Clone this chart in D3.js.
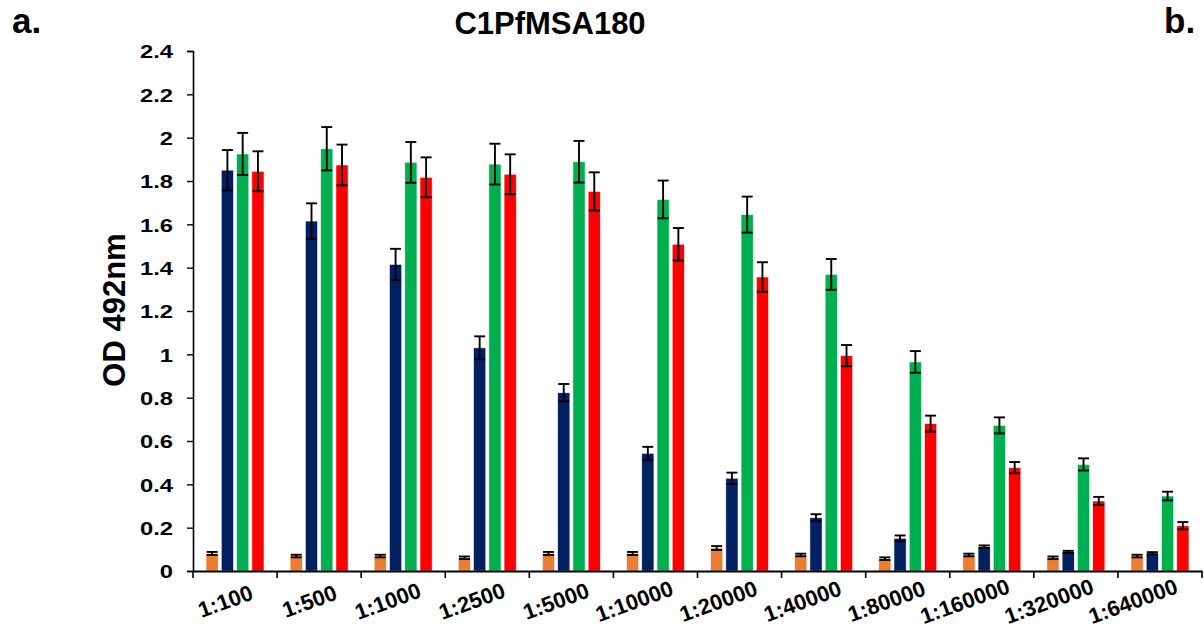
<!DOCTYPE html>
<html>
<head>
<meta charset="utf-8">
<script src="https://cdn.jsdelivr.net/npm/d3@7"></script>
<style>
    body { margin: 0; background: #fff; }
    svg { font-family: 'Liberation Sans', Arial, sans-serif; font-weight: bold; }
</style>
</head>
<body>
<div id="chart"></div>
<script>
    // dilutions on the x axis
    var categories = ['1:100', '1:500', '1:1000', '1:2500', '1:5000', '1:10000',
        '1:20000', '1:40000', '1:80000', '1:160000', '1:320000', '1:640000'];

    var seriesNames = ['s1', 's2', 's3', 's4'];
    var seriesColors = ['#ED7D31', '#002060', '#00B050', '#FF0000'];

    // OD values
    var orangeVals = [0.081, 0.069, 0.069, 0.061, 0.081, 0.081, 0.106, 0.074, 0.057, 0.074, 0.061, 0.069];
    var orangeErr  = [0.007, 0.006, 0.006, 0.006, 0.007, 0.007, 0.009, 0.006, 0.006, 0.006, 0.006, 0.006];
    var blueVals   = [1.85, 1.615, 1.415, 1.03, 0.823, 0.543, 0.428, 0.246, 0.151, 0.112, 0.088, 0.082];
    var blueErr    = [0.093, 0.082, 0.072, 0.053, 0.04, 0.03, 0.026, 0.016, 0.013, 0.006, 0.005, 0.005];
    var greenVals  = [1.925, 1.949, 1.886, 1.878, 1.889, 1.715, 1.645, 1.369, 0.965, 0.672, 0.492, 0.346];
    var greenErr   = [0.097, 0.1, 0.094, 0.094, 0.096, 0.087, 0.083, 0.071, 0.05, 0.037, 0.028, 0.02];
    var redVals    = [1.845, 1.874, 1.817, 1.831, 1.752, 1.508, 1.357, 0.994, 0.68, 0.477, 0.323, 0.209];
    var redErr     = [0.092, 0.094, 0.092, 0.092, 0.088, 0.075, 0.068, 0.049, 0.037, 0.026, 0.019, 0.017];

    var yTicks = [0, 0.2, 0.4, 0.6, 0.8, 1, 1.2, 1.4, 1.6, 1.8, 2, 2.2, 2.4];

    var width = 1204,
        height = 631,
        plotLeft = 193,
        plotRight = 1202,
        plotTop = 51,
        plotBottom = 571;

    var values = [orangeVals, blueVals, greenVals, redVals],
        errors = [orangeErr, blueErr, greenErr, redErr];

    var svg = d3.select('#chart').append('svg')
        .attr('width', width)
        .attr('height', height);

    var x0 = d3.scaleBand()
        .domain(categories)
        .range([plotLeft, plotRight])
        .padding(0);

    var groupWidth = 58;
    var x1 = d3.scaleBand()
        .domain(seriesNames)
        .range([0, groupWidth])
        .paddingInner(0.2)
        .paddingOuter(0);

    var y = d3.scaleLinear()
        .domain([0, 2.4])
        .range([plotBottom, plotTop]);

    // flatten into one record per bar
    var bars = [];
    categories.forEach(function(cat, i) {
        seriesNames.forEach(function(s, j) {
            bars.push({ cat: cat, series: s, color: seriesColors[j], value: values[j][i], err: errors[j][i] });
        });
    });

    function barX(d) {
        return x0(d.cat) + (x0.bandwidth() - groupWidth) / 2 + x1(d.series);
    }

    var barG = svg.append('g').attr('class', 'bars');

    barG.selectAll('rect')
        .data(bars)
        .enter().append('rect')
        .attr('x', barX)
        .attr('y', function(d) { return y(d.value); })
        .attr('width', x1.bandwidth())
        .attr('height', function(d) { return y(0) - y(d.value); })
        .attr('fill', function(d) { return d.color; })
        .attr('stroke', '#ffffff')
        .attr('stroke-opacity', 0.7)
        .attr('stroke-width', 0.8);

    // error bars
    var errG = svg.append('g').attr('class', 'errors')
        .attr('stroke', '#000')
        .attr('stroke-width', 1.9);

    var capHalf = 5.5;

    var eb = errG.selectAll('g')
        .data(bars)
        .enter().append('g')
        .attr('transform', function(d) {
            return 'translate(' + (barX(d) + x1.bandwidth() / 2) + ',0)';
        });

    eb.append('line')
        .attr('x1', 0).attr('x2', 0)
        .attr('y1', function(d) { return y(d.value + d.err); })
        .attr('y2', function(d) { return y(d.value - d.err); });
    eb.append('line')
        .attr('x1', -capHalf).attr('x2', capHalf)
        .attr('y1', function(d) { return y(d.value + d.err); })
        .attr('y2', function(d) { return y(d.value + d.err); });
    eb.append('line')
        .attr('x1', -capHalf).attr('x2', capHalf)
        .attr('y1', function(d) { return y(d.value - d.err); })
        .attr('y2', function(d) { return y(d.value - d.err); });

    // y axis
    var yAxis = svg.append('g')
        .attr('transform', 'translate(' + plotLeft + ',0)')
        .call(d3.axisLeft(y)
            .tickValues(yTicks)
            .tickSize(6)
            .tickFormat(function(d) { return String(Math.round(d * 10) / 10); }));
    yAxis.select('.domain').attr('stroke-width', 1.6);
    yAxis.selectAll('.tick line').attr('stroke-width', 1.4);
    // the tick labels in the source are a bit wide, stretch them
    yAxis.selectAll('text')
        .attr('x', -16)
        .attr('dy', '0.36em')
        .attr('transform', 'scale(1.25,1)')
        .attr('font-size', 19)
        .attr('font-weight', 'bold')
        .attr('font-family', "'Liberation Sans', Arial, sans-serif")
        .attr('fill', '#000');

    // x axis
    var xAxis = svg.append('g')
        .attr('transform', 'translate(0,' + plotBottom + ')')
        .call(d3.axisBottom(x0).tickSize(0).tickFormat(''));
    xAxis.select('.domain').attr('stroke-width', 1.8);

    // category boundary ticks
    xAxis.selectAll('.sep')
        .data(categories.concat(['end']))
        .enter().append('line')
        .attr('class', 'sep')
        .attr('x1', function(d, i) { return plotLeft + i * x0.step(); })
        .attr('x2', function(d, i) { return plotLeft + i * x0.step(); })
        .attr('y1', 0)
        .attr('y2', 7)
        .attr('stroke', '#000')
        .attr('stroke-width', 1.6);

    // rotated labels: the rotated box is centred vertically, right edge near the band centre
    var labelAngle = 20,
        labelSize = 22,
        capH = labelSize * 0.716,
        sinA = Math.sin(labelAngle * Math.PI / 180),
        cosA = Math.cos(labelAngle * Math.PI / 180);

    xAxis.selectAll('.xlabel')
        .data(categories)
        .enter().append('text')
        .attr('class', 'xlabel')
        .attr('text-anchor', 'end')
        .attr('font-size', labelSize)
        .attr('fill', '#000')
        .text(function(d) { return d; })
        .attr('transform', function(d) {
            var len = this.getComputedTextLength(),
                ex = x0(d) + x0.bandwidth() / 2 + 14 + capH * sinA,
                ey = 30 - (len * sinA - capH * cosA) / 2;
            return 'translate(' + ex + ',' + ey + ') rotate(' + (-labelAngle) + ')';
        });

    // title and labels
    svg.append('text')
        .attr('x', 550)
        .attr('y', 34)
        .attr('text-anchor', 'middle')
        .attr('font-size', 31)
        .text('C1PfMSA180');

    svg.append('text')
        .attr('transform', 'translate(125,310) rotate(-90)')
        .attr('text-anchor', 'middle')
        .attr('font-size', 31)
        .text('OD 492nm');

    svg.append('text')
        .attr('x', 12)
        .attr('y', 33)
        .attr('font-size', 35)
        .text('a.');

    svg.append('text')
        .attr('x', 1164)
        .attr('y', 33)
        .attr('font-size', 35)
        .text('b.');
</script>
</body>
</html>
